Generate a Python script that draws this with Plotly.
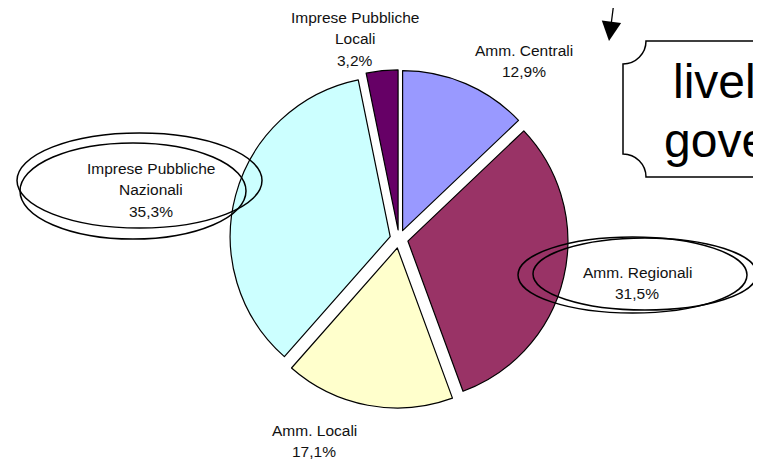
import plotly.graph_objects as go

# ---- data ----
categories = ["Amm. Centrali", "Amm. Regionali", "Amm. Locali",
              "Imprese Pubbliche<br>Nazionali", "Imprese Pubbliche<br>Locali"]
values = [12.9, 31.5, 17.1, 35.3, 3.2]
colors = ["#9999FF", "#993366", "#FFFFCC", "#CCFFFF", "#660066"]
callout_lines = ["livelli di", "governo"]

# ---- styling / layout positions (pixels in a 761x461 canvas) ----
W, H = 761, 461
OFF = 8  # page body margin offset
label_pos = [(524, 50), (637, 272), (314, 430), (151, 168), (355, 17)]
line_gap = 21.5
FONT = "Liberation Sans, Arial, sans-serif"

fig = go.Figure()

cx, cy, R, pull = 399, 239, 160, 0.057
half = R * (1 + pull)
fx, fy = cx - OFF, cy - OFF
fig.add_trace(go.Pie(
    labels=[c.replace("<br>", " ") for c in categories],
    values=values,
    sort=False,
    direction="clockwise",
    rotation=0,
    pull=[pull] * len(values),
    marker=dict(colors=colors, line=dict(color="black", width=1.2)),
    textinfo="none",
    hoverinfo="label+percent",
    showlegend=False,
    domain=dict(x=[(fx - half) / W, (fx + half) / W],
                y=[(H - fy - half) / H, (H - fy + half) / H]),
))

annotations = []
for cat, val, (lx, ly) in zip(categories, values, label_pos):
    lines = cat.split("<br>") + [f"{val:.1f}".replace(".", ",") + "%"]
    for i, ln in enumerate(lines):
        annotations.append(dict(
            x=lx, y=ly + i * line_gap, xref="x", yref="y", text=ln,
            showarrow=False, xanchor="center", yanchor="middle",
            font=dict(family=FONT, size=15.5, color="#111111")))

# callout text (clipped by the right edge, as in the original)
annotations.append(dict(x=750, y=81, xref="x", yref="y", text=callout_lines[0],
                        showarrow=False, xanchor="center", yanchor="middle",
                        font=dict(family=FONT, size=48, color="black")))
annotations.append(dict(x=750, y=140, xref="x", yref="y", text=callout_lines[1],
                        showarrow=False, xanchor="center", yanchor="middle",
                        font=dict(family=FONT, size=48, color="black")))
# arrow
annotations.append(dict(x=609, y=41, xref="x", yref="y", ax=616, ay=-14,
                        axref="x", ayref="y", text="", showarrow=True,
                        arrowhead=2, arrowsize=3, arrowwidth=1.3, arrowcolor="black"))

shapes = []
# ellipses around labels
for (x0, y0, x1, y1) in [(17, 133, 262, 228), (20, 143, 246, 239),
                         (518, 237, 747, 313), (533, 238, 757, 310)]:
    shapes.append(dict(type="circle", xref="x", yref="y", x0=x0, y0=y0, x1=x1, y1=y1,
                       line=dict(color="black", width=1.5), fillcolor="rgba(0,0,0,0)"))

# plaque-shaped callout box
L, T, B, Rr, r = 623, 41, 177, 800, 23
k = 0.5523 * r
path = (f"M {L + r},{T} L {Rr},{T} L {Rr},{B} L {L + r},{B} "
        f"C {L + r},{B - k} {L + k},{B - r} {L},{B - r} "
        f"L {L},{T + r} "
        f"C {L + k},{T + r} {L + r},{T + k} {L + r},{T} Z")
shapes.append(dict(type="path", xref="x", yref="y", path=path,
                   line=dict(color="black", width=1.5), fillcolor="white", layer="below"))

fig.update_layout(
    width=W, height=H,
    margin=dict(l=0, r=0, t=0, b=0),
    paper_bgcolor="white", plot_bgcolor="rgba(0,0,0,0)",
    xaxis=dict(range=[OFF, W + OFF], visible=False, fixedrange=True),
    yaxis=dict(range=[H + OFF, OFF], visible=False, fixedrange=True),
    annotations=annotations,
    shapes=shapes,
)

fig.write_html("out.html")
